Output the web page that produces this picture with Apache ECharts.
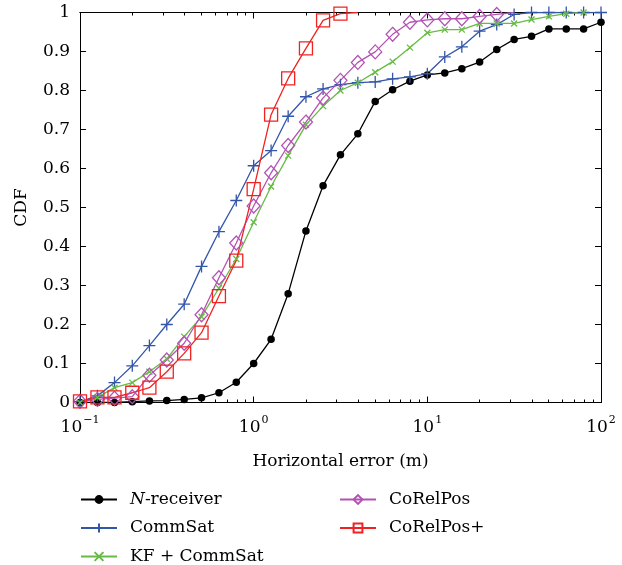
<!DOCTYPE html>
<html>
<head>
<meta charset="utf-8">
<script src="https://cdn.jsdelivr.net/npm/echarts@6/dist/echarts.min.js"></script>
<style>
  html, body { margin: 0; padding: 0; background: #fff; }
  #chart { width: 622px; height: 565px; }
</style>
</head>
<body>
<div id="chart"></div>
<script>
// Horizontal error sample points (m), spaced 0.1 decade apart
const errors = [0.1, 0.126, 0.158, 0.2, 0.251, 0.316, 0.398, 0.501, 0.631, 0.794,
  1, 1.26, 1.58, 2, 2.51, 3.16, 3.98, 5.01, 6.31, 7.94,
  10, 12.6, 15.8, 20, 25.1, 31.6, 39.8, 50.1, 63.1, 79.4, 100];

// CDF values per method
const nReceiver = [0, 0, 0, 0.002, 0.004, 0.005, 0.008, 0.012, 0.025, 0.052,
  0.10, 0.162, 0.279, 0.44, 0.556, 0.635, 0.689, 0.772, 0.802, 0.824,
  0.84, 0.845, 0.856, 0.873, 0.905, 0.931, 0.939, 0.958, 0.958, 0.958, 0.975];
const commSat = [0.002, 0.017, 0.051, 0.094, 0.146, 0.20, 0.252, 0.349, 0.438, 0.518,
  0.607, 0.646, 0.734, 0.784, 0.804, 0.815, 0.82, 0.822, 0.83, 0.835,
  0.843, 0.886, 0.912, 0.952, 0.969, 0.995, 1, 1, 1, 1, 1];
const kfCommSat = [0, 0.013, 0.038, 0.051, 0.079, 0.112, 0.169, 0.22, 0.293, 0.368,
  0.462, 0.554, 0.633, 0.712, 0.76, 0.8, 0.82, 0.847, 0.874, 0.91,
  0.948, 0.956, 0.956, 0.972, 0.972, 0.972, 0.982, 0.99, 0.997, 1];
const coRelPos = [0.003, 0.008, 0.011, 0.015, 0.07, 0.109, 0.152, 0.225, 0.32, 0.409,
  0.504, 0.589, 0.659, 0.719, 0.781, 0.826, 0.872, 0.899, 0.944, 0.975,
  0.981, 0.984, 0.984, 0.99, 0.995, 1];
const coRelPosPlus = [0.003, 0.013, 0.013, 0.025, 0.038, 0.079, 0.126, 0.179, 0.273, 0.364,
  0.547, 0.738, 0.831, 0.908, 0.98, 0.997, 1];

// Axis ticks
const majorTicks = [0.1, 1, 10, 100];
const minorTicks = [0.2, 0.3, 0.4, 0.5, 0.6, 0.7, 0.8, 0.9,
  2, 3, 4, 5, 6, 7, 8, 9, 20, 30, 40, 50, 60, 70, 80, 90];

const FONT = 'DejaVu Serif';
const FS = 17;

// Pair each value with its error; the closing point of a curve carries no marker
function pairs(values, lastBare) {
  return values.map((v, i) => {
    const item = { value: [errors[i], v] };
    if (lastBare && i === values.length - 1) item.symbol = 'none';
    return item;
  });
}

const PLUS = 'path://M5,0L5,10M0,5L10,5';
const CROSS = 'path://M0,0L10,10M0,10L10,0';

function logAxis(position, tickValues, len, labels) {
  return {
    type: 'log', logBase: 10, min: 0.1, max: 100, position: position,
    axisLine: { show: true, lineStyle: { color: '#000', width: 1 } },
    axisTick: { show: true, inside: true, length: len, customValues: tickValues,
      lineStyle: { color: '#000', width: 1 } },
    axisLabel: labels ? {
      show: true, customValues: majorTicks, margin: 12,
      fontFamily: FONT, fontSize: FS, color: '#000',
      formatter: function (v) {
        const e = Math.round(Math.log10(v));
        return '{b|10}{s|' + (e < 0 ? '\u2212' + (-e) : e) + '}';
      },
      rich: {
        b: { fontFamily: FONT, fontSize: FS, color: '#000', verticalAlign: 'bottom', lineHeight: 22 },
        s: { fontFamily: FONT, fontSize: 11, color: '#000', verticalAlign: 'top', lineHeight: 22, padding: [0, 0, 8, 1] }
      }
    } : { show: false },
    splitLine: { show: false }
  };
}

function linAxis(position, labels) {
  return {
    type: 'value', min: 0, max: 1, interval: 0.1, position: position,
    axisLine: { show: true, lineStyle: { color: '#000', width: 1 } },
    axisTick: { show: true, inside: true, length: 6, lineStyle: { color: '#000', width: 1 } },
    axisLabel: labels ? { show: true, margin: 10, fontFamily: FONT, fontSize: FS, color: '#000' } : { show: false },
    splitLine: { show: false }
  };
}

const xBottom = logAxis('bottom', majorTicks, 6, true);
xBottom.name = 'Horizontal error (m)';
xBottom.nameLocation = 'middle';
xBottom.nameGap = 51;
xBottom.nameTextStyle = { fontFamily: FONT, fontSize: FS, color: '#000' };

const yLeft = linAxis('left', true);
yLeft.name = 'CDF';
yLeft.nameLocation = 'middle';
yLeft.nameRotate = 90;
yLeft.nameGap = 50;
yLeft.nameTextStyle = { fontFamily: FONT, fontSize: FS, color: '#000' };

function lineSeries(name, values, color, symbol, size, lastBare, filled) {
  return {
    name: name, type: 'line', xAxisIndex: 0, yAxisIndex: 0,
    data: pairs(values, lastBare),
    symbol: symbol, symbolSize: size, showSymbol: true,
    lineStyle: { color: color, width: 1.3 },
    itemStyle: filled ? { color: color } : { color: 'rgba(255,255,255,0)', borderColor: color, borderWidth: 1.3 },
    emphasis: { disabled: true },
    animation: false
  };
}

const legendText = {
  fontFamily: FONT, fontSize: FS, color: '#000', padding: [0, 0, 0, 8], lineHeight: 16,
  rich: { i: { fontFamily: FONT, fontSize: FS, fontStyle: 'italic', color: '#000', lineHeight: 16 } }
};

function legendBlock(names, left) {
  return {
    data: names,
    orient: 'vertical', left: left, top: 491, height: 100, padding: 0,
    itemWidth: 36, itemHeight: 11, itemGap: 11.5,
    textStyle: legendText,
    formatter: function (n) { return n === 'N-receiver' ? '{i|N}-receiver' : n; },
    selectedMode: false
  };
}

const option = {
  backgroundColor: '#fff',
  animation: false,
  grid: { left: 80, right: 21, top: 12.5, bottom: 162.5 },
  xAxis: [
    xBottom,
    logAxis('bottom', minorTicks, 3, false),
    logAxis('top', majorTicks, 6, false),
    logAxis('top', minorTicks, 3, false)
  ],
  yAxis: [yLeft, linAxis('right', false)],
  legend: [
    legendBlock(['N-receiver', 'CommSat', 'KF + CommSat'], 80),
    legendBlock(['CoRelPos', 'CoRelPos+'], 339)
  ],
  series: [
    lineSeries('N-receiver', nReceiver, '#000000', 'circle', 7.5, false, true),
    lineSeries('CommSat', commSat, '#3356a8', PLUS, 12, false, false),
    lineSeries('KF + CommSat', kfCommSat, '#66bb44', CROSS, 6, false, false),
    lineSeries('CoRelPos', coRelPos, '#b452b4', 'diamond', [13, 14], true, false),
    lineSeries('CoRelPos+', coRelPosPlus, '#f02222', 'rect', 13, true, false)
  ]
};

const chart = echarts.init(document.getElementById('chart'), null, { renderer: 'canvas' });
chart.setOption(option);
</script>
</body>
</html>
